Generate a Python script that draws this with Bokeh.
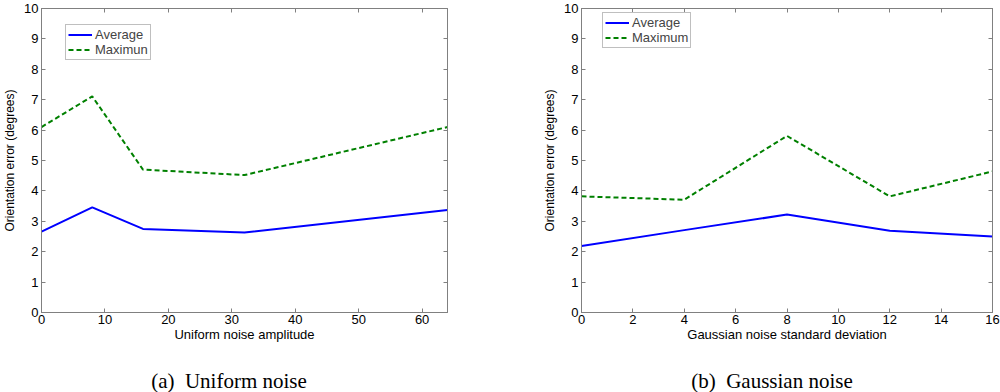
from bokeh.plotting import figure
from bokeh.layouts import row, column
from bokeh.models import (Range1d, SingleIntervalTicker, LinearAxis, Legend,
                          LegendItem, Div, CustomJSTickFormatter)
from bokeh.embed import file_html
from bokeh.resources import INLINE

# ---- data ----
uniform_x = [0, 8, 16, 32, 64]
uniform_avg = [2.66, 3.46, 2.75, 2.63, 3.37]
uniform_max = [6.10, 7.11, 4.70, 4.52, 6.10]

gauss_x = [0, 4, 8, 12, 16]
gauss_avg = [2.19, 2.71, 3.22, 2.69, 2.50]
gauss_max = [3.82, 3.71, 5.81, 3.82, 4.64]

y_label = "Orientation error (degrees)"
left_xlabel = "Uniform noise amplitude"
right_xlabel = "Gaussian noise standard deviation"
left_caption = "(a)&nbsp; Uniform noise"
right_caption = "(b)&nbsp; Gaussian noise"
left_legend = ["Average", "Maximun"]
right_legend = ["Average", "Maximum"]

FONT = "Liberation Sans"
SERIF = "Liberation Serif"
GREY = "#808080"


def make_panel(xs, avg, mx, xmax, xint, xlabel, legend_names, caption,
               width, border_left, border_right, legend_loc, cap_pad):
    p = figure(width=width, height=350, output_backend="svg",
               toolbar_location=None, x_range=Range1d(0, xmax),
               y_range=Range1d(0, 10),
               min_border_left=border_left, min_border_right=border_right,
               min_border_top=8, min_border_bottom=38,
               x_axis_location=None, y_axis_location=None)
    p.grid.visible = False
    p.outline_line_color = GREY
    p.background_fill_color = "white"
    p.border_fill_color = "white"

    def style(ax, labels=True):
        ax.major_tick_in = 4
        ax.major_tick_out = 0
        ax.minor_tick_in = 0
        ax.minor_tick_out = 0
        ax.axis_line_color = GREY
        ax.major_tick_line_color = GREY
        ax.major_label_text_font = FONT
        ax.major_label_text_color = "black"
        ax.axis_label_text_font = FONT
        ax.axis_label_text_font_style = "normal"
        ax.axis_label_text_color = "black"
        if labels:
            ax.major_label_text_font_size = "13px"
            ax.axis_label_text_font_size = "13px"
            ax.major_label_standoff = 2
            ax.axis_label_standoff = 0
        else:
            ax.formatter = CustomJSTickFormatter(code="return ''")
            ax.major_label_standoff = 0

    xb = LinearAxis(ticker=SingleIntervalTicker(interval=xint), axis_label=xlabel)
    style(xb)
    p.add_layout(xb, "below")
    yl = LinearAxis(ticker=SingleIntervalTicker(interval=1), axis_label=y_label)
    style(yl)
    yl.axis_label_text_font_size = "12px"
    yl.major_label_standoff = 3
    yl.axis_label_standoff = 4
    p.add_layout(yl, "left")
    xt = LinearAxis(ticker=SingleIntervalTicker(interval=xint))
    style(xt, labels=False)
    p.add_layout(xt, "above")
    yr = LinearAxis(ticker=SingleIntervalTicker(interval=1))
    style(yr, labels=False)
    p.add_layout(yr, "right")

    r1 = p.line(xs, avg, line_color="#0000ff", line_width=2)
    r2 = p.line(xs, mx, line_color="#008000", line_width=2, line_dash="5 3")

    leg = Legend(items=[LegendItem(label=legend_names[0], renderers=[r1]),
                        LegendItem(label=legend_names[1], renderers=[r2])],
                 location=legend_loc)
    leg.label_text_font = FONT
    leg.label_text_font_size = "13px"
    leg.glyph_width = 24
    leg.glyph_height = 13
    leg.label_height = 13
    leg.label_standoff = 3
    leg.padding = 2
    leg.spacing = 0
    leg.margin = 0
    leg.border_line_color = GREY
    leg.background_fill_alpha = 1
    p.add_layout(leg, "center")

    cap = Div(text=('<div style="box-sizing:border-box;width:%dpx;'
                    'text-align:center;font-family:\'%s\';'
                    'font-size:21px;line-height:22px;padding-top:20px;%s;'
                    'color:black;">%s</div>') % (width, SERIF, cap_pad, caption),
              width=width, height=42, margin=0)
    return column(p, cap, spacing=0)


c1 = make_panel(uniform_x, uniform_avg, uniform_max, 64, 10, left_xlabel,
                left_legend, left_caption, 500, 36, 53, (24, 252),
                "padding-right:42px")
c2 = make_panel(gauss_x, gauss_avg, gauss_max, 16, 2, right_xlabel,
                right_legend, right_caption, 500, 81, 8, (21, 264),
                "padding-left:44px")

layout = row(c1, c2, spacing=0)
open("out.html", "w").write(file_html(layout, INLINE))
